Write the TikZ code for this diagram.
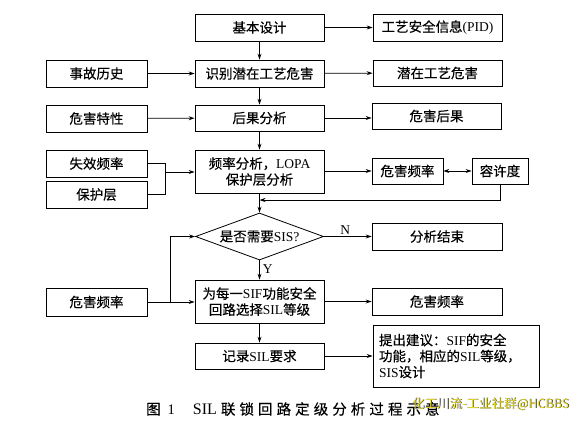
\documentclass[tikz,border=0pt]{standalone}
\usepackage{fontspec}
\setmainfont[FakeBold=0.3]{Noto Sans CJK SC}
\newfontfamily\lat{Liberation Serif}
\newfontfamily\capcjk[LetterSpace=28,FakeBold=0.3]{Noto Sans CJK SC}
\newfontfamily\wm{Noto Sans CJK SC}
\usetikzlibrary{shapes.geometric,arrows.meta}
\definecolor{wmyellow}{RGB}{232,222,50}
\begin{document}
\begin{tikzpicture}[x=1pt,y=-1pt,
  every node/.style={font=\fontsize{13.5}{16}\selectfont},
  box/.style={draw, line width=0.8pt, inner sep=0pt, align=center},
  arr/.style={line width=0.8pt, -{Stealth[length=6pt,width=4pt]}},
  ln/.style={line width=0.8pt},
  darr/.style={line width=0.8pt, {Stealth[length=6pt,width=4pt]}-{Stealth[length=6pt,width=4pt]}}]
\path[use as bounding box, fill=white] (0,0) rectangle (581,421);
% column 2 (main)
\node[box, minimum width=129pt, minimum height=27pt] (base) at (259.5,27.5) {基本设计};
\node[box, minimum width=129pt, minimum height=27pt] (ident) at (259.5,73.5) {识别潜在工艺危害};
\node[box, minimum width=129pt, minimum height=26pt] (cons) at (259.5,118) {后果分析};
\node[box, minimum width=129pt, minimum height=43pt] (lopa) at (259.5,171.5) {频率分析，{\lat LOPA}\\保护层分析};
\node[diamond, draw, line width=0.8pt, inner sep=0pt, minimum width=128pt, minimum height=47pt] (dec) at (259.5,236.5) {};
\node (dectxt) at (dec.center) {是否需要{\lat SIS?}};
\node[box, minimum width=129pt, minimum height=43pt] (sif) at (259.5,301.5) {为每一{\lat SIF}功能安全\\回路选择{\lat SIL}等级};
\node[box, minimum width=129pt, minimum height=26pt] (rec) at (259.5,356) {记录{\lat SIL}要求};
% left column
\node[box, minimum width=101pt, minimum height=27pt] (acc) at (96.5,73.5) {事故历史};
\node[box, minimum width=101pt, minimum height=27pt] (haz) at (96.5,118.5) {危害特性};
\node[box, minimum width=101pt, minimum height=27pt] (fail) at (96.5,163.5) {失效频率};
\node[box, minimum width=101pt, minimum height=27pt] (prot) at (96.5,194.5) {保护层};
\node[box, minimum width=101pt, minimum height=28pt] (hf2) at (96.5,302) {危害频率};
% right column
\node[box, minimum width=129pt, minimum height=27pt] (pid) at (437.5,27.5) {工艺安全信息{\lat (PID)}};
\node[box, minimum width=129pt, minimum height=26pt] (pot) at (437.5,73) {潜在工艺危害};
\node[box, minimum width=129pt, minimum height=26pt] (hcons) at (436.5,116) {危害后果};
\node[box, minimum width=71pt, minimum height=26pt] (hf1) at (407.5,171) {危害频率};
\node[box, minimum width=56pt, minimum height=26pt] (tol) at (500,171) {容许度};
\node[box, minimum width=130pt, minimum height=27pt] (end) at (437,236.5) {分析结束};
\node[box, minimum width=130pt, minimum height=27pt] (hf3) at (437,301.5) {危害频率};
\node[box, minimum width=166pt, minimum height=62pt, align=left, text width=154pt] (sug) at (456,356) {提出建议：{\lat SIF}的安全\\功能，相应的{\lat SIL}等级，\\{\lat SIS}设计};
% connectors
\draw[arr] (base) -- (ident);
\draw[arr] (base) -- (pid);
\draw[arr] (acc) -- (ident);
\draw[arr] (ident) -- (pot);
\draw[arr] (ident) -- (cons);
\draw[arr] (haz) -- (cons);
\draw[arr] (cons.east) -- (hcons.west |- cons.east);
\draw[arr] (cons) -- (lopa);
\coordinate (j) at (165,172);
\draw[ln] (fail.east) -| (j);
\draw[ln] (prot.east) -| (j);
\draw[arr] (j) -- (lopa.west |- j);
\draw[arr] (lopa.east |- hf1) -- (hf1.west);
\draw[darr] (hf1) -- (tol);
\coordinate (fb) at (259.5,200);
\draw[arr] (tol.south) |- (fb);
\draw[arr] (lopa) -- (dec.north);
\draw[arr] (dec.east) -- node[above, pos=0.45, inner sep=2pt] {\lat N} (end.west);
\draw[arr] (dec.south) -- node[right, pos=0.45, inner sep=3pt] {\lat Y} (sif.north);
\draw[arr] (hf2.east) -- (sif.west |- hf2.east);
\coordinate (b) at (170,302);
\draw[arr] (b) |- (dec.west);
\draw[arr] (sif.east |- hf3) -- (hf3.west);
\draw[arr] (sif) -- (rec);
\draw[arr] (rec.east) -- (sug.west |- rec.east);
% caption
\node[anchor=west, inner sep=0pt, font=\fontsize{14.5}{17}\selectfont] (cap) at (146,409) {图\hspace{7pt}{\lat 1}\hspace{18pt}{\lat\fontsize{16}{18}\selectfont SIL}\hspace{4pt}{\capcjk 联锁回路定级分析过程示意}};
% watermark
\node[anchor=west, inner sep=0pt, text=black!80, font=\wm\fontsize{12.5}{14}\selectfont] (wms) at (412.7,404.7) {化工川流-工业社群@HCBBS};
\node[anchor=west, inner sep=0pt, text=wmyellow, font=\wm\fontsize{12.5}{14}\selectfont] (wmk) at (412,404) {化工川流-工业社群@HCBBS};
\end{tikzpicture}
\end{document}
